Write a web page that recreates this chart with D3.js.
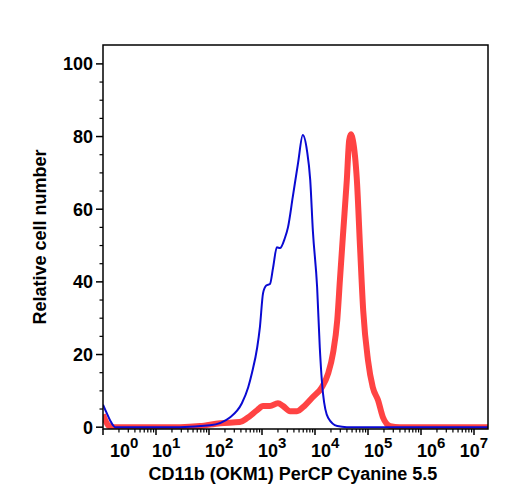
<!DOCTYPE html>
<html>
<head>
<meta charset="utf-8">
<script src="https://cdn.jsdelivr.net/npm/d3@7/dist/d3.min.js"></script>
<style>
  html, body { margin: 0; padding: 0; background: #fff; }
  svg { display: block; }
  text { font-family: "Liberation Sans", Arial, Helvetica, sans-serif; font-weight: bold; fill: #000; }
</style>
</head>
<body>
<svg id="chart" width="508" height="500"></svg>
<script>
// ---- Data (x given as log10 of fluorescence intensity) ----
const blueLogX = [0, 0.06, 0.13, 0.23, 1.0, 1.45, 2.02, 2.40, 2.62, 2.74, 2.81, 2.91, 2.96, 3.02, 3.08, 3.15, 3.21, 3.28, 3.34, 3.43, 3.49, 3.58, 3.68, 3.77, 3.85, 3.91, 3.96, 4.04, 4.09, 4.15, 4.25, 4.42, 4.6, 7.3];
const blueY    = [6.2, 4.2, 2.0, 0, 0, 0, 0.5, 2.75, 6.6, 11, 14.9, 22, 27.5, 36.9, 39, 39.4, 44, 49.5, 49.3, 52, 55, 63.3, 72.7, 80.4, 76, 68, 54, 38.5, 22, 9.4, 2.5, 0.3, 0, 0];

const redLogX = [0, 0.1, 0.18, 1.45, 1.83, 2.21, 2.58, 2.72, 2.91, 3.02, 3.15, 3.30, 3.40, 3.53, 3.66, 3.81, 3.96, 4.13, 4.25, 4.34, 4.42, 4.47, 4.53, 4.60, 4.645, 4.68, 4.715, 4.79, 4.85, 4.91, 5.00, 5.09, 5.19, 5.28, 5.42, 5.6, 7.3];
const redY    = [3.5, 0.5, 0, 0, 0.3, 1.1, 1.4, 2.5, 4.7, 5.8, 5.8, 6.6, 5.8, 4.4, 4.4, 6.0, 8.3, 11, 14.9, 20.4, 29.5, 40.5, 53.4, 68, 79, 80.6, 79, 68, 49.5, 32, 18.4, 11, 7.4, 2.8, 0.3, 0, 0];

const yMajorTicks = [0, 20, 40, 60, 80, 100];
const xDecades = [0, 1, 2, 3, 4, 5, 6, 7];
const xTitle = "CD11b (OKM1) PerCP Cyanine 5.5";
const yTitle = "Relative cell number";

// ---- Layout ----
const svg = d3.select("#chart");
const L = 103, R = 488, T = 45, B = 429;

const x = d3.scaleLog().domain([1, Math.pow(10, 7.264)]).range([L, R]);
const y = d3.scaleLinear().domain([-0.5, 105.2]).range([B, T]);

svg.append("defs").append("clipPath").attr("id", "plotClip")
  .append("rect").attr("x", L).attr("y", T).attr("width", R - L).attr("height", B - T);

const line = d3.line()
  .x(d => x(Math.pow(10, d[0])))
  .y(d => y(d[1]))
  .curve(d3.curveMonotoneX);

const redData = redLogX.map((v, i) => [v, redY[i]]);
const blueData = blueLogX.map((v, i) => [v, blueY[i]]);

const g = svg.append("g").attr("clip-path", "url(#plotClip)");
g.append("path").datum(redData).attr("d", line)
  .attr("fill", "none").attr("stroke", "#ff3333").attr("stroke-opacity", 0.92)
  .attr("stroke-width", 6).attr("stroke-linejoin", "round");
g.append("path").datum(blueData).attr("d", line)
  .attr("fill", "none").attr("stroke", "#0a0ad2")
  .attr("stroke-width", 2).attr("stroke-linejoin", "round");

// ---- Frame ----
svg.append("rect").attr("x", L).attr("y", T).attr("width", R - L).attr("height", B - T)
  .attr("fill", "none").attr("stroke", "#000").attr("stroke-width", 1.5);

// ---- Y axis ticks ----
const yMinor = d3.range(0, 105, 5).filter(v => !yMajorTicks.includes(v));
const yAx = svg.append("g");
yAx.selectAll("line.maj").data(yMajorTicks).enter().append("line")
  .attr("x1", L - 7).attr("x2", L).attr("y1", d => y(d)).attr("y2", d => y(d))
  .attr("stroke", "#000").attr("stroke-width", 1.5);
yAx.selectAll("line.min").data(yMinor).enter().append("line")
  .attr("x1", L - 3.5).attr("x2", L).attr("y1", d => y(d)).attr("y2", d => y(d))
  .attr("stroke", "#000").attr("stroke-width", 1.2);
yAx.selectAll("text").data(yMajorTicks).enter().append("text")
  .attr("x", 93).attr("y", d => y(d)).attr("dy", "0.36em")
  .attr("text-anchor", "end").style("font-size", "18px").text(d => d);

// ---- X axis ticks ----
const xAx = svg.append("g");
const xMinor = [];
xDecades.forEach(dec => { for (let k = 2; k <= 9; k++) { const v = k * Math.pow(10, dec); if (x(v) <= R) xMinor.push(v); } });
xAx.selectAll("line.maj").data(xDecades.map(d => Math.pow(10, d))).enter().append("line")
  .attr("x1", d => x(d)).attr("x2", d => x(d)).attr("y1", B).attr("y2", B + 6)
  .attr("stroke", "#000").attr("stroke-width", 1.5);
xAx.selectAll("line.min").data(xMinor).enter().append("line")
  .attr("x1", d => x(d)).attr("x2", d => x(d)).attr("y1", B).attr("y2", B + 3.5)
  .attr("stroke", "#000").attr("stroke-width", 1.2);

xDecades.forEach(dec => {
  const t = xAx.append("text").attr("y", 457).style("font-size", "18px");
  t.append("tspan").text("10");
  t.append("tspan").attr("dy", -9).style("font-size", "15px").text(dec);
  const w = t.node().getComputedTextLength();
  let px = x(Math.pow(10, dec)) - 4;
  px = Math.max(110, Math.min(px, 488 - w));
  t.attr("x", px);
});

// ---- Titles ----
svg.append("text").attr("x", 293).attr("y", 480).attr("text-anchor", "middle")
  .style("font-size", "18px").text(xTitle);
svg.append("text").attr("transform", "translate(46,237) rotate(-90)")
  .attr("text-anchor", "middle").style("font-size", "18px").text(yTitle);
</script>
</body>
</html>
